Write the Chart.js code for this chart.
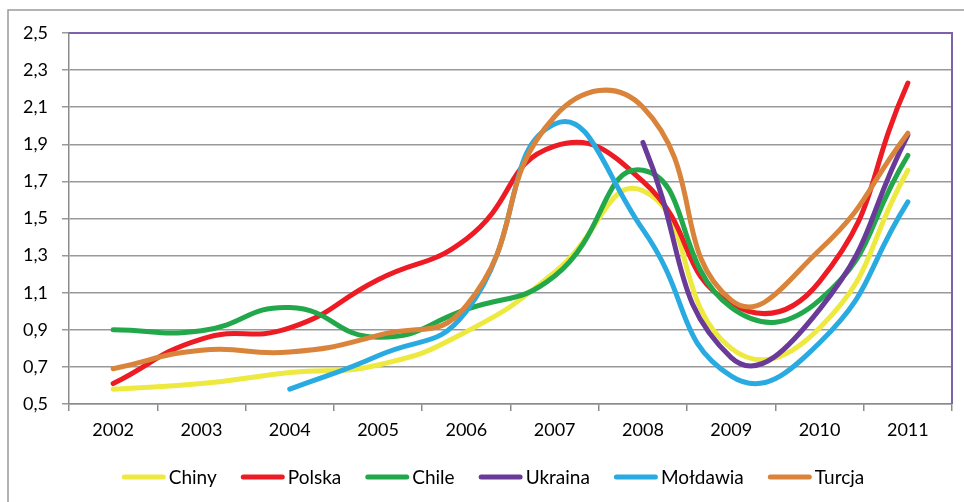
<!DOCTYPE html>
<html>
<head>
<meta charset="utf-8">
<script src="https://cdn.jsdelivr.net/npm/chart.js@4.4.1/dist/chart.umd.min.js"></script>
<style>
  html, body { margin: 0; padding: 0; background: #fff; }
  #wrap { width: 964px; height: 502px; }
</style>
</head>
<body>
<div id="wrap"><canvas id="myChart" width="964" height="502"></canvas></div>
<script>
const lata = ['2002', '2003', '2004', '2005', '2006', '2007', '2008', '2009', '2010', '2011'];
const osY = [0.5, 0.7, 0.9, 1.1, 1.3, 1.5, 1.7, 1.9, 2.1, 2.3, 2.5];

const chiny    = [0.58, 0.61, 0.67, 0.71, 0.89, 1.21, 1.65, 0.80, 0.91, 1.76];
const polska   = [0.61, 0.85, 0.91, 1.17, 1.39, 1.89, 1.70, 1.04, 1.16, 2.23];
const chile    = [0.90, 0.895, 1.02, 0.86, 1.01, 1.19, 1.76, 1.02, 1.06, 1.84];
const ukraina  = [null, null, null, null, null, null, 1.91, 0.75, 1.01, 1.95];
const moldawia = [null, null, 0.58, 0.76, 1.00, 2.01, 1.44, 0.65, 0.83, 1.59];
const turcja   = [0.69, 0.79, 0.78, 0.87, 1.03, 2.05, 2.10, 1.06, 1.33, 1.96];

const nazwy = ['Chiny', 'Polska', 'Chile', 'Ukraina', 'Mołdawia', 'Turcja'];
const serie = [chiny, polska, chile, ukraina, moldawia, turcja];
const kolory = ['#EDE93F', '#ED1C24', '#22A84A', '#6A3A99', '#29ABE2', '#D9843A'];

const FONT = 'Lato, "Open Sans", sans-serif';

// ramka wykresu i obszaru danych
const ramki = {
  id: 'ramki',
  beforeDatasetsDraw(chart) {
    const c = chart.ctx, a = chart.chartArea;
    c.save();
    c.strokeStyle = '#7E62AE';
    c.lineWidth = 2;
    c.beginPath();
    c.moveTo(a.left, a.top);
    c.lineTo(a.right, a.top);
    c.lineTo(a.right, a.bottom);
    c.stroke();
    c.restore();
  },
  afterDraw(chart) {
    const c = chart.ctx;
    c.save();
    c.strokeStyle = '#9a9a9a';
    c.lineWidth = 1.5;
    c.beginPath();
    c.moveTo(8, 502);
    c.lineTo(8, 10);
    c.lineTo(964, 10);
    c.stroke();
    c.restore();
  }
};

// legenda w stylu Excela
const legenda = {
  id: 'legenda',
  afterDraw(chart) {
    const c = chart.ctx;
    const dl = 44, odst = 3, przerwa = 24, y = 477;
    c.save();
    c.font = '19px ' + FONT;
    c.textBaseline = 'middle';
    const sz = chart.data.datasets.map(d => dl + odst + c.measureText(d.label).width);
    const razem = sz.reduce((s, w) => s + w, 0) + przerwa * (sz.length - 1);
    let x = 493 - razem / 2;
    chart.data.datasets.forEach((d, i) => {
      c.strokeStyle = d.borderColor;
      c.lineWidth = 5;
      c.lineCap = 'round';
      c.beginPath();
      c.moveTo(x + 2.5, y);
      c.lineTo(x + dl - 2.5, y);
      c.stroke();
      c.fillStyle = '#000';
      c.fillText(d.label, x + dl + odst, y + 1);
      x += sz[i] + przerwa;
    });
    c.restore();
  }
};

const ctx = document.getElementById('myChart');
new Chart(ctx, {
  type: 'line',
  data: {
    labels: lata,
    datasets: serie.map((s, i) => ({
      label: nazwy[i],
      data: s,
      borderColor: kolory[i],
      backgroundColor: kolory[i],
      borderWidth: 5,
      borderCapStyle: 'round',
      borderJoinStyle: 'round',
      pointRadius: 0,
      tension: 0.5,
      order: serie.length - i
    }))
  },
  options: {
    responsive: false,
    animation: false,
    layout: { padding: { left: 0, top: 33, right: 12, bottom: 48 } },
    plugins: { legend: { display: false }, tooltip: { enabled: false } },
    scales: {
      x: {
        offset: true,
        grid: { offset: true, drawOnChartArea: false, color: '#8c8c8c', tickLength: 7, lineWidth: 1.5 },
        border: { color: '#8c8c8c', width: 1.5 },
        ticks: { color: '#000', font: { family: FONT, size: 18 }, padding: 8, maxRotation: 0 },
        afterFit(scale) { scale.height = 50; }
      },
      y: {
        min: 0.5,
        max: 2.5,
        afterBuildTicks(scale) { scale.ticks = osY.map(v => ({ value: v })); },
        grid: { color: '#999', tickLength: 7, lineWidth: 1.5 },
        border: { color: '#8c8c8c', width: 1.5 },
        ticks: {
          color: '#000',
          font: { family: FONT, size: 18 },
          padding: 14,
          callback: v => v.toFixed(1).replace('.', ',')
        },
        afterFit(scale) { scale.width = 69; }
      }
    }
  },
  plugins: [ramki, legenda]
});
</script>
</body>
</html>
